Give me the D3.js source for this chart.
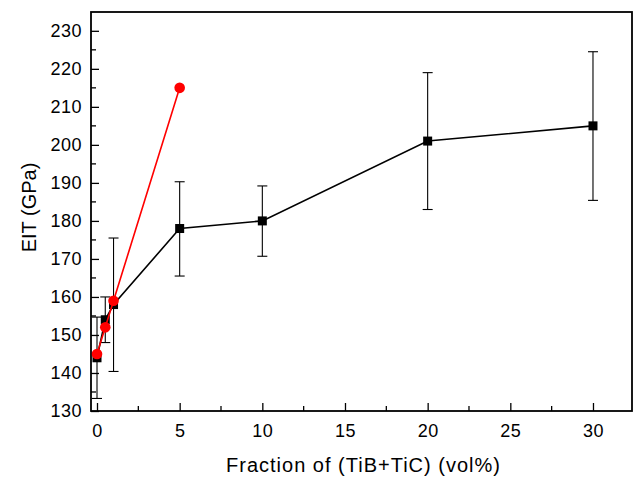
<!DOCTYPE html>
<html>
<head>
<meta charset="utf-8">
<script src="https://cdn.jsdelivr.net/npm/d3@7"></script>
<style>
  html, body { margin: 0; padding: 0; background: #fff; }
  svg { display: block; font-family: "Liberation Sans", Arial, sans-serif; }
</style>
</head>
<body>
<div id="chart"></div>
<script>
// black series (with error bars)
const blackX = [0, 0.5, 1, 5, 10, 20, 30];
const blackY = [144, 154, 158, 178, 180, 201, 205];
const blackLow = [133.3, 148, 140.4, 165.5, 170.7, 183, 185.4];
const blackHigh = [154.7, 160, 175.5, 190.3, 189.2, 219, 224.5];

// red series
const redX = [0, 0.5, 1, 5];
const redY = [145, 152, 159, 215];

const xTicks = [0, 5, 10, 15, 20, 25, 30];
const yTicks = [130, 140, 150, 160, 170, 180, 190, 200, 210, 220, 230];

const width = 636;
const height = 479;
const margin = { top: 12, right: 4, bottom: 68, left: 91 };
const innerWidth = width - margin.left - margin.right;
const innerHeight = height - margin.top - margin.bottom;

const svg = d3.select("#chart")
  .append("svg")
  .attr("width", width)
  .attr("height", height);

const g = svg.append("g")
  .attr("transform", `translate(${margin.left}, ${margin.top})`);

const xScale = d3.scaleLinear()
  .domain([-0.363, 32.36])
  .range([0, innerWidth]);

const yScale = d3.scaleLinear()
  .domain([130, 234.95])
  .range([innerHeight, 0]);

// minor ticks
const xMinor = d3.range(2.5, 32, 5);
const yMinor = d3.range(135, 235, 10);

const bottomAxis = d3.axisBottom(xScale)
  .tickValues(xTicks)
  .tickSize(-8)
  .tickPadding(13)
  .tickSizeOuter(0);

const leftAxis = d3.axisLeft(yScale)
  .tickValues(yTicks)
  .tickSize(-8)
  .tickPadding(9)
  .tickSizeOuter(0);

const xAxisG = g.append("g")
  .attr("transform", `translate(0, ${innerHeight})`)
  .call(bottomAxis);

const yAxisG = g.append("g").call(leftAxis);

[xAxisG, yAxisG].forEach(a => {
  a.select(".domain").remove();
  a.selectAll("line").attr("stroke", "#000").attr("stroke-width", 1.3);
  a.selectAll("text")
    .attr("fill", "#000")
    .style("font-size", "18px")
    .style("letter-spacing", "0.5px")
    .style("font-family", "Liberation Sans, Arial, sans-serif");
});

g.append("g")
  .selectAll("line")
  .data(xMinor)
  .join("line")
  .attr("x1", d => xScale(d))
  .attr("x2", d => xScale(d))
  .attr("y1", innerHeight)
  .attr("y2", innerHeight - 5)
  .attr("stroke", "#000")
  .attr("stroke-width", 1.3);

g.append("g")
  .selectAll("line")
  .data(yMinor)
  .join("line")
  .attr("x1", 0)
  .attr("x2", 5)
  .attr("y1", d => yScale(d))
  .attr("y2", d => yScale(d))
  .attr("stroke", "#000")
  .attr("stroke-width", 1.3);

// frame
g.append("rect")
  .attr("x", 0)
  .attr("y", 0)
  .attr("width", innerWidth)
  .attr("height", innerHeight)
  .attr("fill", "none")
  .attr("stroke", "#000")
  .attr("stroke-width", 1.8);

// axis titles
svg.append("text")
  .attr("x", margin.left + innerWidth / 2 + 2)
  .attr("y", 472)
  .attr("text-anchor", "middle")
  .attr("fill", "#000")
  .style("font-size", "20px")
  .style("letter-spacing", "1px")
  .text("Fraction of (TiB+TiC) (vol%)");

svg.append("text")
  .attr("transform", `translate(36, ${margin.top + innerHeight / 2 - 4}) rotate(-90)`)
  .attr("text-anchor", "middle")
  .attr("fill", "#000")
  .style("font-size", "20px")
  .text("EIT (GPa)");

// error bars
const blackData = blackX.map((x, i) => ({ x, y: blackY[i], lo: blackLow[i], hi: blackHigh[i] }));
const capW = 5;

const err = g.append("g").attr("stroke", "#000").attr("stroke-width", 1.1);
err.selectAll(".ev")
  .data(blackData)
  .join("line")
  .attr("class", "ev")
  .attr("x1", d => xScale(d.x))
  .attr("x2", d => xScale(d.x))
  .attr("y1", d => yScale(d.lo))
  .attr("y2", d => yScale(d.hi));
err.selectAll(".ch")
  .data(blackData)
  .join("line")
  .attr("class", "ch")
  .attr("x1", d => xScale(d.x) - capW)
  .attr("x2", d => xScale(d.x) + capW)
  .attr("y1", d => yScale(d.hi))
  .attr("y2", d => yScale(d.hi));
err.selectAll(".cl")
  .data(blackData)
  .join("line")
  .attr("class", "cl")
  .attr("x1", d => xScale(d.x) - capW)
  .attr("x2", d => xScale(d.x) + capW)
  .attr("y1", d => yScale(d.lo))
  .attr("y2", d => yScale(d.lo));

const line = d3.line()
  .x(d => xScale(d.x))
  .y(d => yScale(d.y));

g.append("path")
  .datum(blackData)
  .attr("d", line)
  .attr("fill", "none")
  .attr("stroke", "#000")
  .attr("stroke-width", 1.6);

const sq = 9;
g.selectAll(".sq")
  .data(blackData)
  .join("rect")
  .attr("class", "sq")
  .attr("x", d => xScale(d.x) - sq / 2)
  .attr("y", d => yScale(d.y) - sq / 2)
  .attr("width", sq)
  .attr("height", sq)
  .attr("fill", "#000");

// red series
const redData = redX.map((x, i) => ({ x, y: redY[i] }));

g.append("path")
  .datum(redData)
  .attr("d", line)
  .attr("fill", "none")
  .attr("stroke", "#ff0000")
  .attr("stroke-width", 1.6);

g.selectAll(".dot")
  .data(redData)
  .join("circle")
  .attr("class", "dot")
  .attr("cx", d => xScale(d.x))
  .attr("cy", d => yScale(d.y))
  .attr("r", 5.3)
  .attr("fill", "#ff0000");
</script>
</body>
</html>
